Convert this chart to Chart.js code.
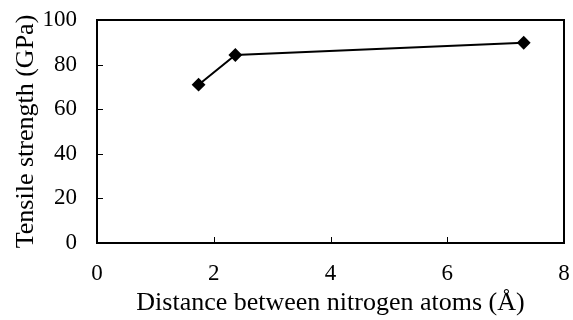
<!DOCTYPE html>
<html>
<head>
<meta charset="utf-8">
<script src="https://cdn.jsdelivr.net/npm/chart.js@4.4.0/dist/chart.umd.min.js"></script>
<style>
  html, body { margin: 0; padding: 0; background: #fff; }
  #wrap { width: 573px; height: 320px; }
</style>
</head>
<body>
<div id="wrap"><canvas id="myChart" width="573" height="320"></canvas></div>
<script>
// values
let distance = [1.74, 2.37, 7.31];
let strength = [71.0, 84.3, 89.8];
let xTicks = [0, 2, 4, 6, 8];
let yTicks = [0, 20, 40, 60, 80, 100];

let serif = "'Liberation Serif', 'Times New Roman', serif";

// frame round the plot area and ticks pointing inwards
const framePlugin = {
    id: 'frame',
    afterDraw(chart) {
        let ctx = chart.ctx;
        let a = chart.chartArea;
        let xs = chart.scales.x;
        let ys = chart.scales.y;
        ctx.save();
        ctx.strokeStyle = '#000';
        ctx.lineWidth = 1;
        xTicks.forEach(v => {
            let px = Math.round(xs.getPixelForValue(v)) + 0.5;
            ctx.beginPath();
            ctx.moveTo(px, a.bottom);
            ctx.lineTo(px, a.bottom - 6);
            ctx.stroke();
        });
        yTicks.forEach(v => {
            let py = Math.round(ys.getPixelForValue(v)) + 0.5;
            ctx.beginPath();
            ctx.moveTo(a.left, py);
            ctx.lineTo(a.left + 6, py);
            ctx.stroke();
        });
        ctx.lineWidth = 2;
        ctx.strokeRect(a.left, a.top, a.right - a.left, a.bottom - a.top);
        ctx.restore();
    }
};

let ctx = document.getElementById('myChart');
let chart = new Chart(ctx, {
    type: 'scatter',
    data: {
        datasets: [
            {
                label: 'Tensile strength',
                data: distance.map((d, i) => ({ x: d, y: strength[i] })),
                showLine: true,
                borderColor: '#000',
                backgroundColor: '#000',
                borderWidth: 2,
                pointStyle: 'rectRot',
                pointRadius: 5.5,
                pointHoverRadius: 5.5,
                tension: 0
            }
        ]
    },
    options: {
        responsive: false,
        animation: false,
        layout: { padding: { top: 20, right: 9, left: 0, bottom: 0 } },
        scales: {
            x: {
                type: 'linear',
                min: 0,
                max: 8,
                afterBuildTicks: s => { s.ticks = xTicks.map(v => ({ value: v })); },
                afterFit: s => { s.height = 77; s.paddingLeft = 0; s.paddingRight = 0; },
                grid: { display: false },
                border: { display: false },
                ticks: {
                    color: '#000',
                    padding: 9,
                    font: { family: serif, size: 23 }
                },
                title: {
                    display: true,
                    text: 'Distance between nitrogen atoms (Å)',
                    color: '#000',
                    padding: { top: 0, bottom: 1 },
                    font: { family: serif, size: 26 }
                }
            },
            y: {
                min: 0,
                max: 100,
                afterBuildTicks: s => { s.ticks = yTicks.map(v => ({ value: v })); },
                afterFit: s => { s.width = 97; s.paddingTop = 0; s.paddingBottom = 0; },
                grid: { display: false },
                border: { display: false },
                ticks: {
                    color: '#000',
                    padding: 12,
                    font: { family: serif, size: 23 }
                },
                title: {
                    display: true,
                    text: 'Tensile strength (GPa)',
                    color: '#000',
                    padding: { top: 11, bottom: 0 },
                    font: { family: serif, size: 26 }
                }
            }
        },
        plugins: {
            legend: { display: false },
            tooltip: { enabled: false }
        }
    },
    plugins: [framePlugin]
});
</script>
</body>
</html>
